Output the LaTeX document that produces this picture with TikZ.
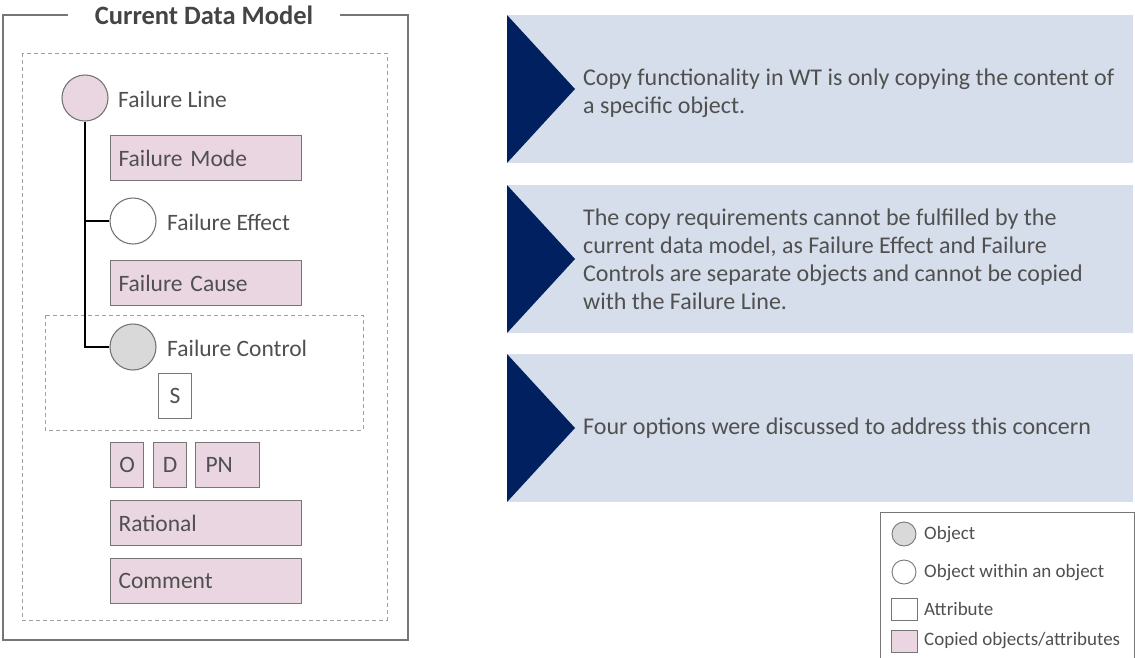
\documentclass[tikz,border=0pt]{standalone}
\usepackage{fontspec}
\setmainfont{Carlito}
\definecolor{copied}{RGB}{234,214,225}
\definecolor{boxgray}{RGB}{118,118,118}
\definecolor{dashgray}{RGB}{160,160,160}
\definecolor{objgray}{RGB}{217,217,217}
\definecolor{panel}{RGB}{214,222,235}
\definecolor{navy}{RGB}{0,32,96}
\definecolor{txt}{RGB}{80,80,80}
\tikzset{
  frameline/.style={draw=boxgray, line width=1.1pt},
  groupbox/.style={draw=dashgray, line width=0.8pt, dash pattern=on 4pt off 3pt},
  attr/.style={draw=boxgray, line width=1.1pt, fill=copied, anchor=north west,
    inner xsep=8pt, inner ysep=0pt, minimum height=45pt, align=left, text=txt,
    font=\fontsize{23.5}{26}\selectfont},
  plainattr/.style={attr, fill=white},
  objcircle/.style={circle, draw=boxgray, line width=1.1pt, minimum size=46pt, inner sep=0pt},
  objlabel/.style={anchor=west, inner sep=0pt, text=txt, font=\fontsize{23.5}{26}\selectfont},
  link/.style={draw=black, line width=2.4pt},
  paneltext/.style={anchor=west, inner sep=0pt, align=left, text=txt,
    font=\fontsize{24}{28}\selectfont},
  legcircle/.style={circle, draw=boxgray, line width=0.9pt, minimum size=24pt, inner sep=0pt},
  legsquare/.style={draw=boxgray, line width=0.9pt, anchor=north west, minimum width=26pt,
    minimum height=22pt, inner sep=0pt},
  legtext/.style={anchor=west, inner sep=0pt, text=txt, font=\fontsize{19}{22}\selectfont},
}
\begin{document}
\begin{tikzpicture}[x=1pt,y=-1pt]
\useasboundingbox (0,0) rectangle (1135,657);
\fill[white] (0,0) rectangle (1135,657);

% ---- left: current data model frame
\draw[frameline] (68,15) -- (3,15) -- (3,640) -- (408,640) -- (408,15) -- (340,15);
\node[inner sep=0pt, text=txt!85!black, font=\fontsize{26.5}{30}\bfseries\selectfont]
  (title) at (204,15) {Current Data Model};
\draw[groupbox] (22,53) rectangle (387,620);
\draw[groupbox] (45,315) rectangle (363,430);

% objects
\node[objcircle, fill=copied] (fl) at (85,98) {};
\node[objlabel] (fllab) at (118,99) {Failure Line};
\node[attr, text width=175pt] (fm) at (110,135) {Failure Mode};
\node[objcircle, fill=white] (fe) at (133,221) {};
\node[objlabel] (felab) at (167,222) {Failure Effect};
\node[attr, text width=175pt] (fca) at (110,260) {Failure Cause};
\node[objcircle, fill=objgray] (fc) at (133,347) {};
\node[objlabel] (fclab) at (167,348) {Failure Control};
\node[plainattr, minimum width=33pt, align=center, inner xsep=0pt] (s) at (158,373) {S};
\node[attr, minimum width=33pt, align=center, inner xsep=0pt] (o) at (110,442) {O};
\node[attr, minimum width=33pt, align=center, inner xsep=0pt] (d) at (153,442) {D};
\node[attr, text width=48pt] (pn) at (195,442) {\hspace*{2pt}PN};
\node[attr, text width=175pt] (rat) at (110,500) {Rational};
\node[attr, text width=175pt] (com) at (110,558) {Comment};

% hierarchy connectors
\draw[link] (fl.south) -- (fl.south |- fc.west) -- (fc.west);
\draw[link] (fl.south |- fe.west) -- (fe.west);

% ---- right: statement panels
\foreach \top/\name in {15/p1, 185/p2, 354/p3} {
  \fill[panel] (507,\top) rectangle (1133,\top+148);
  \fill[navy] (507,\top) -- (575,\top+74) -- (507,\top+148) -- cycle;
}
\node[paneltext] (t1) at (583,93) {Copy functionality in WT is only copying the content of\\a specific object.};
\node[paneltext] (t2) at (583,259) {The copy requirements cannot be fulfilled by the\\current data model, as Failure Effect and Failure\\Controls are separate objects and cannot be copied\\with the Failure Line.};
\node[paneltext] (t3) at (583,428) {Four options were discussed to address this concern};

% ---- legend
\draw[frameline, line width=1pt] (880,660) -- (880,512) -- (1134,512) -- (1134,660);
\node[legcircle, fill=objgray] (lg1) at (904,534) {};
\node[legtext] (lt1) at (924,535) {Object};
\node[legcircle, fill=white] (lg2) at (904,572) {};
\node[legtext] (lt2) at (924,573) {Object within an object};
\node[legsquare, fill=white] (lg3) at (891,598) {};
\node[legtext] (lt3) at (924,609) {Attribute};
\node[legsquare, fill=copied] (lg4) at (891,630) {};
\node[legtext] (lt4) at (924,641) {Copied objects/attributes};
\end{tikzpicture}
\end{document}
